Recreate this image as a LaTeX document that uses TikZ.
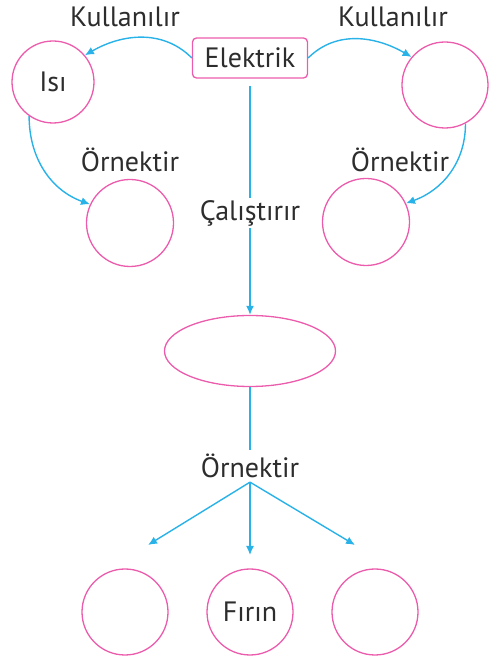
\documentclass[tikz,border=0pt]{standalone}
\usepackage{fontspec}
\setmainfont{PT Sans}
\usetikzlibrary{shapes.geometric}
\usetikzlibrary{positioning, arrows.meta}
\definecolor{kpink}{RGB}{236,92,172}
\definecolor{kblue}{RGB}{40,178,232}
\definecolor{ktext}{RGB}{45,45,45}
\begin{document}
\begin{tikzpicture}[x=1pt, y=1pt,
		box/.style={draw=kpink, line width=1.3pt, rounded corners=4pt, minimum width=115pt, minimum height=40pt, inner sep=0pt},
		ball/.style={circle, draw=kpink, line width=1.3pt, minimum size=86pt, inner sep=0pt},
		egg/.style={ellipse, draw=kpink, line width=1.3pt, minimum width=171pt, minimum height=71pt, inner sep=0pt},
		word/.style={text=ktext, font=\fontsize{28}{30}\selectfont, inner sep=2pt},
		link/.style={draw=kblue, line width=1.4pt},
		>={Latex[length=9pt, width=8pt]}
		]
		\useasboundingbox (0,0) rectangle (498,661);
		
		% top row
		\node[box, word] (elek) at (250, 603) {Elektrik};
		\node[ball, word, minimum size=82pt] (isi) at (53, 579) {Isı};
		\node[ball] (rt) at (445, 576) {};
		\node[word] (kul1) at (125, 644) {Kullanılır};
		\node[word] (kul2) at (393, 644) {Kullanılır};
		
		% middle row
		\node[ball, minimum size=87pt] (lm) at (130, 438) {};
		\node[ball, minimum size=87pt] (rm) at (366, 439) {};
		\node[word] (orn1) at (130, 501) {Örnektir};
		\node[word] (orn2) at (400, 501) {Örnektir};
		\node[word] (cal) at (250, 448) {Çalıştırır};
		
		\node[egg] (ell) at (250, 310) {};
		\node[word, inner sep=4pt] (orn3) at (250, 195) {Örnektir};
		
		% bottom row
		\foreach \name/\px/\txt in {b1/125/{}, b2/250/Fırın, b3/375/{}}
		\node[ball, word] (\name) at (\px, 49) {\txt};
		\coordinate (t1) at (148, 116);
		\coordinate (t2) at (250, 106);
		\coordinate (t3) at (355, 116);
		
		\draw[link, ->] (elek.west) to[out=135, in=30] (isi.40);
		\draw[link, ->] (elek.east) to[out=45, in=150] (rt.140);
		\draw[link, ->] (isi.235) to[out=270, in=160] (lm.155);
		\draw[link, ->] (rt.298) to[out=270, in=20] (rm.25);
		
		\draw[link, shorten <=7pt] (elek.south) to (cal.north);
		\draw[link, ->] (cal.south) to (ell.north);
		\draw[link] (ell.south) to (orn3.north);
		\foreach \i in {1,2,3} {
			\draw[link, ->] (orn3.south) to (t\i);
		}
		
\end{tikzpicture}
\end{document}
